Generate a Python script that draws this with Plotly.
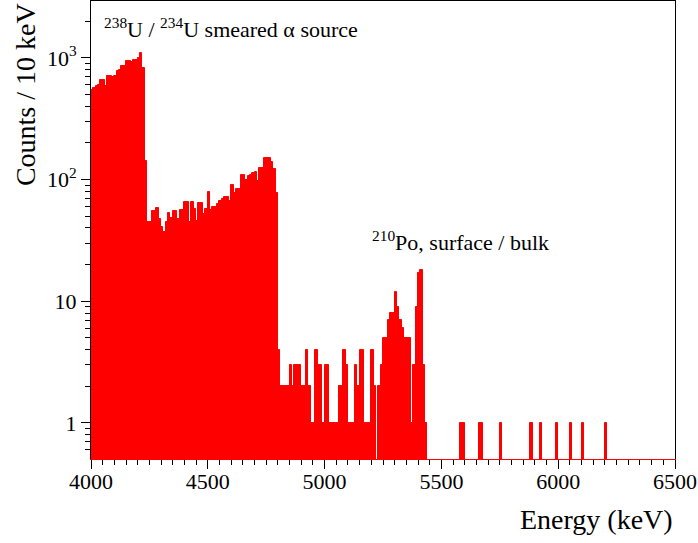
import plotly.graph_objects as go

# ---- data: counts per 10 keV bin, bins start at 4000 keV ----
bin_width = 10
bin_starts = list(range(4000, 6500, bin_width))

counts_4000_4490 = [545, 562, 588, 599, 658, 658, 588, 709, 709, 693,
                    709, 785, 795, 863, 863, 944, 944, 930, 962, 962,
                    1000, 1091, 830, 142, 45, 45, 55, 55, 58, 47,
                    41, 37, 45, 53, 48, 55, 55, 47, 56, 56,
                    65, 65, 45, 66, 57, 46, 64, 64, 52, 57]
counts_4500_4990 = [79, 56, 59, 59, 63, 67, 69, 72, 72, 67,
                    90, 78, 84, 84, 110, 110, 99, 107, 110, 113,
                    115, 98, 125, 125, 150, 150, 150, 139, 122, 77,
                    4, 2, 2, 2, 2, 3, 2, 3, 3, 3,
                    2, 2, 4, 2, 1, 1, 4, 3, 3, 1]
counts_5000_5490 = [3, 3, 1, 1, 1, 1, 2, 2, 4, 3,
                    1, 1, 1, 3, 2, 4, 4, 1, 1, 1,
                    4, 2, 0, 2, 3, 5, 5, 7, 8, 8,
                    12, 9, 7, 6, 5, 5, 5, 1, 3, 9,
                    17, 18, 3, 1, 0, 0, 0, 0, 0, 0]
counts_5500_5990 = [0, 0, 0, 0, 0, 0, 0, 0, 1, 1,
                    0, 0, 0, 0, 0, 0, 1, 1, 0, 0,
                    0, 0, 0, 0, 0, 1, 0, 0, 0, 0,
                    0, 0, 0, 0, 0, 0, 0, 0, 1, 0,
                    0, 0, 1, 0, 0, 0, 0, 0, 0, 1]
counts_6000_6490 = [0, 0, 0, 0, 0, 1, 0, 0, 0, 0,
                    1, 0, 0, 0, 0, 0, 0, 0, 0, 0,
                    1, 0, 0, 0, 0, 0, 0, 0, 0, 0,
                    0, 0, 0, 0, 0, 0, 0, 0, 0, 0,
                    0, 0, 0, 0, 0, 0, 0, 0, 0, 0]

counts = (counts_4000_4490 + counts_4500_4990 + counts_5000_5490
          + counts_5500_5990 + counts_6000_6490)

x_ticks = [4000, 4500, 5000, 5500, 6000, 6500]
y_ticks = [1, 10, 100, 1000]
y_ticktext = ["1", "10", "10<sup>2</sup>", "10<sup>3</sup>"]
y_minor = [m * 10 ** d for d in range(-1, 4) for m in range(2, 10)]

centers = [s + bin_width / 2 for s in bin_starts]
yvals = [c if c > 0 else None for c in counts]

FONT = "Liberation Serif"
RED = "#ff0000"

fig = go.Figure()
fig.add_trace(go.Bar(
    x=centers, y=yvals, width=bin_width,
    marker=dict(color=RED, line=dict(color=RED, width=1)),
    hoverinfo="x+y",
))
# empty helper trace so that the top frame axis is always drawn
fig.add_trace(go.Scatter(x=[None], y=[None], xaxis="x2", yaxis="y",
                         showlegend=False, hoverinfo="skip"))

fig.update_layout(
    template="none",
    width=698, height=543,
    margin=dict(l=91, r=23, t=1, b=84, pad=0),
    paper_bgcolor="white", plot_bgcolor="white",
    bargap=0, showlegend=False,
    font=dict(family=FONT, size=22, color="black"),
    xaxis=dict(
        range=[4000, 6500], tickvals=x_ticks, ticks="outside", ticklen=9,
        tickwidth=1, tickcolor="black", ticklabelstandoff=-6,
        minor=dict(dtick=50, tick0=4000, ticks="outside", ticklen=5,
                   tickcolor="black", tickwidth=1),
        showline=True, linecolor=RED, linewidth=1, mirror=False,
        showgrid=False, zeroline=False, automargin=False,
        tickfont=dict(family=FONT, size=22),
    ),
    xaxis2=dict(
        range=[4000, 6500], overlaying="x", side="top", anchor="y",
        showline=True, linecolor="black", linewidth=1,
        ticks="", showticklabels=False, showgrid=False, zeroline=False,
        automargin=False,
    ),
    yaxis=dict(
        type="log", range=[-0.296, 3.467],
        tickvals=y_ticks, ticktext=y_ticktext, ticks="outside", ticklen=9,
        tickwidth=1, tickcolor="black",
        minor=dict(tickvals=y_minor, ticks="outside", ticklen=5,
                   tickcolor="black", tickwidth=1),
        showline=True, linecolor="black", linewidth=1, mirror=True,
        showgrid=False, zeroline=False, automargin=False,
        tickfont=dict(family=FONT, size=22),
    ),
)

fig.add_annotation(
    text="Counts / 10 keV", textangle=-90, showarrow=False,
    xref="paper", yref="paper", x=-0.112, y=1.0,
    xanchor="center", yanchor="top",
    font=dict(family=FONT, size=28),
)
fig.add_annotation(
    text="Energy (keV)", showarrow=False,
    xref="paper", yref="paper", x=1.0, y=-0.132,
    xanchor="right", yanchor="middle",
    font=dict(family=FONT, size=28),
)
fig.add_annotation(
    text="<sup>238</sup>U / <sup>234</sup>U smeared \u03b1 source",
    showarrow=False, xref="paper", yref="paper",
    x=0.018, y=0.94, xanchor="left", yanchor="middle",
    font=dict(family=FONT, size=22),
)
fig.add_annotation(
    text="<sup>210</sup>Po, surface / bulk",
    showarrow=False, xref="paper", yref="paper",
    x=0.477, y=0.475, xanchor="left", yanchor="middle",
    font=dict(family=FONT, size=22),
)

fig.write_html(
    "out.html",
    config={"displayModeBar": False},
    post_script="document.body.style.margin='0';document.body.style.overflow='hidden';",
)
